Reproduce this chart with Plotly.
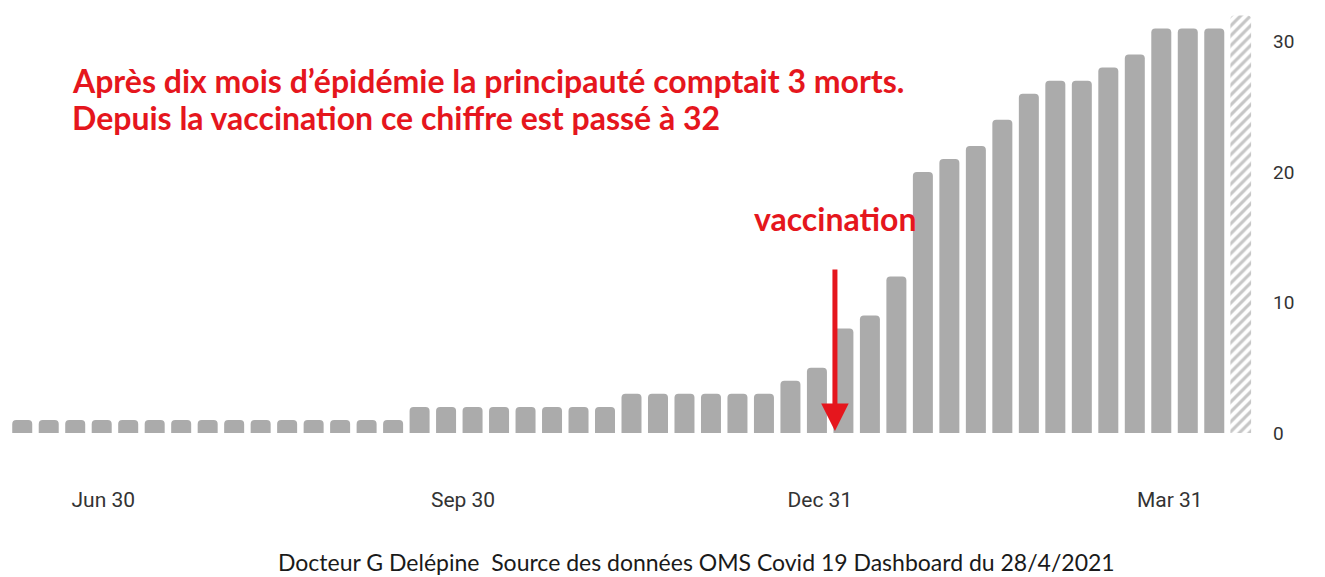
import plotly.graph_objects as go

# ---- data (weekly cumulative Covid-19 deaths, WHO dashboard) ----
deaths = [1, 1, 1, 1, 1, 1, 1, 1, 1, 1, 1, 1, 1, 1, 1,
          2, 2, 2, 2, 2, 2, 2, 2,
          3, 3, 3, 3, 3, 3,
          4, 5, 8, 9, 12, 20, 21, 22, 24, 26, 27, 27, 28, 29, 31, 31, 31]
partial_week_value = [32]  # current, incomplete week (hatched)
week_index = list(range(len(deaths)))
partial_index = [len(deaths)]
tick_labels = ["Jun 30", "Sep 30", "Dec 31", "Mar 31"]
tick_positions = [3.06, 16.64, 30.11, 43.32]   # in week units on the axis
y_ticks = [0, 10, 20, 30]
vaccination_week = 30.68

title_line1 = "Après dix mois d’épidémie la principauté comptait 3 morts."
title_line2 = "Depuis la vaccination ce chiffre est passé à 32"
footer = "Docteur G Delépine  Source des données OMS Covid 19 Dashboard du 28/4/2021"

# page has an 8px body margin: figure is drawn from (8, 8)
OFF = 8
W, H = 1325 - OFF, 577 - OFF
ML, MT = 1, 2
PW = 1245
MR = W - ML - PW
BASE = 433 - OFF            # pixel row of y = 0
MB = H - BASE
PH = BASE - MT
YMAX = PH / 13.05

def px(x):   # reference page pixel -> paper x
    return (x - OFF - ML) / PW

def py(y):   # reference page pixel -> paper y
    return (BASE - (y - OFF)) / PH

RED = "#e5161d"
BAR = "#ababab"
TICKFONT = "Liberation Sans Narrow, Arial Narrow, Roboto, sans-serif"
TEXTFONT = "Lato, Open Sans, sans-serif"

fig = go.Figure()
fig.add_trace(go.Bar(
    x=week_index, y=deaths, width=0.755,
    marker=dict(color=BAR, line=dict(width=0)),
))
fig.add_trace(go.Bar(
    x=partial_index, y=partial_week_value, width=0.78,
    marker=dict(color="white", line=dict(width=0),
                pattern=dict(shape="/", fgcolor="#8e8e8e", bgcolor="white",
                             size=7, solidity=0.45)),
))

fig.update_layout(
    width=W, height=H,
    margin=dict(l=ML, r=MR, t=MT, b=MB, pad=0),
    paper_bgcolor="white", plot_bgcolor="white",
    showlegend=False, barmode="overlay", barcornerradius=4,
    xaxis=dict(range=[-0.5, len(deaths) + 0.5], tickvals=tick_positions, ticktext=tick_labels,
               showgrid=False, zeroline=False, showline=False, ticks="",
               ticklabelstandoff=52,
               tickfont=dict(family=TICKFONT, size=21, color="#333333")),
    yaxis=dict(range=[0, YMAX], side="right", tickvals=y_ticks,
               showgrid=False, zeroline=False, showline=False, ticks="",
               ticklabelstandoff=18,
               tickfont=dict(family=TICKFONT, size=19, color="#333333")),
)

fig.add_annotation(text=title_line1, xref="paper", yref="paper", x=px(70), y=py(80),
                   xanchor="left", yanchor="middle", showarrow=False,
                   font=dict(family=TEXTFONT, size=32, color=RED, weight="bold"))
fig.add_annotation(text=title_line2, xref="paper", yref="paper", x=px(70), y=py(117),
                   xanchor="left", yanchor="middle", showarrow=False,
                   font=dict(family=TEXTFONT, size=32, color=RED, weight="bold"))
fig.add_annotation(text="vaccination", xref="paper", yref="paper", x=px(835), y=py(218),
                   xanchor="center", yanchor="middle", showarrow=False,
                   font=dict(family=TEXTFONT, size=32, color=RED, weight="bold"))
fig.add_annotation(text="", x=vaccination_week, y=0, xref="x", yref="y",
                   showarrow=True, arrowhead=2, arrowsize=1.1, arrowwidth=5, arrowcolor=RED,
                   ax=0, ay=-165, axref="pixel", ayref="pixel", standoff=2)
fig.add_annotation(text=footer, xref="paper", yref="paper", x=px(696), y=py(562),
                   xanchor="center", yanchor="middle", showarrow=False,
                   font=dict(family=TEXTFONT, size=23, color="#1a1a1a"))

fig.write_html("out.html")
